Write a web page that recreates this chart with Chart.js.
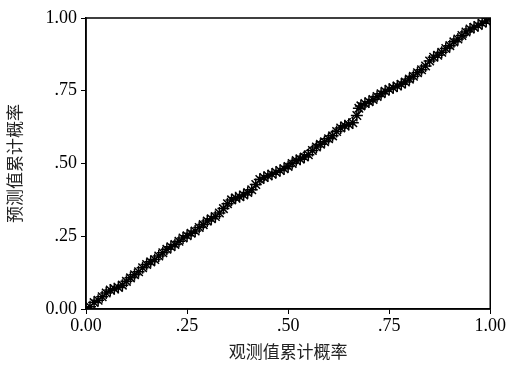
<!DOCTYPE html>
<html>
<head>
<meta charset="utf-8">
<script src="https://cdn.jsdelivr.net/npm/chart.js@4"></script>
<style>
  html, body { margin: 0; padding: 0; background: #fff; }
  #wrap { width: 507px; height: 366px; }
</style>
</head>
<body>
<div id="wrap"><canvas id="ppChart"></canvas></div>
<script>
// observed vs predicted cumulative probability
const observed = [
  0.000, 0.010, 0.020, 0.030, 0.040, 0.050, 0.060, 0.070, 0.080, 0.090,
  0.100, 0.110, 0.120, 0.130, 0.140, 0.150, 0.160, 0.170, 0.180, 0.190,
  0.200, 0.210, 0.220, 0.230, 0.240, 0.250, 0.260, 0.270, 0.280, 0.290,
  0.300, 0.310, 0.320, 0.330, 0.340, 0.350, 0.360, 0.370, 0.380, 0.390,
  0.400, 0.410, 0.420, 0.430, 0.440, 0.450, 0.460, 0.470, 0.480, 0.490,
  0.500, 0.510, 0.520, 0.530, 0.540, 0.550, 0.560, 0.570, 0.580, 0.590,
  0.600, 0.610, 0.620, 0.630, 0.640, 0.650, 0.660, 0.670, 0.675, 0.680,
  0.690, 0.700, 0.710, 0.720, 0.730, 0.740, 0.750, 0.760, 0.770, 0.780,
  0.790, 0.800, 0.810, 0.820, 0.830, 0.840, 0.850, 0.860, 0.870, 0.880,
  0.890, 0.900, 0.910, 0.920, 0.930, 0.940, 0.950, 0.960, 0.970, 0.980,
  0.990, 1.000
];
const predicted = [
  0.000, 0.008, 0.022, 0.030, 0.042, 0.055, 0.065, 0.070, 0.074, 0.082,
  0.095, 0.107, 0.118, 0.128, 0.142, 0.153, 0.162, 0.170, 0.182, 0.193,
  0.205, 0.214, 0.222, 0.233, 0.244, 0.252, 0.260, 0.268, 0.280, 0.290,
  0.302, 0.310, 0.318, 0.330, 0.345, 0.362, 0.375, 0.382, 0.386, 0.392,
  0.400, 0.410, 0.428, 0.445, 0.452, 0.458, 0.463, 0.470, 0.476, 0.482,
  0.490, 0.500, 0.510, 0.515, 0.522, 0.530, 0.545, 0.557, 0.566, 0.575,
  0.585, 0.595, 0.610, 0.622, 0.630, 0.634, 0.640, 0.665, 0.690, 0.698,
  0.706, 0.712, 0.720, 0.730, 0.740, 0.748, 0.755, 0.760, 0.766, 0.772,
  0.780, 0.790, 0.800, 0.812, 0.822, 0.835, 0.852, 0.865, 0.872, 0.882,
  0.895, 0.905, 0.918, 0.928, 0.940, 0.952, 0.962, 0.968, 0.974, 0.982,
  0.990, 1.000
];
const refLine = [[0, 0], [1, 1]];
const tickValues = [0, 0.25, 0.5, 0.75, 1];
const tickLabels = ['0.00', '.25', '.50', '.75', '1.00'];

const xTitle = '观测值累计概率';
const yTitle = '预测值累计概率';

const points = observed.map((x, i) => ({ x: x, y: predicted[i] }));

// box around the plot area (top and right sides)
const frame = {
  id: 'frame',
  afterDraw(chart) {
    const a = chart.chartArea;
    const c = chart.ctx;
    c.save();
    c.strokeStyle = '#000';
    c.lineWidth = 1.5;
    c.strokeRect(a.left, a.top, a.right - a.left, a.bottom - a.top);
    c.restore();
  }
};

const tickFont = { family: '"Liberation Serif", "Times New Roman", serif', size: 18 };
const titleFont = { family: '"Noto Sans CJK SC", sans-serif', size: 17 };

new Chart(document.getElementById('ppChart'), {
  type: 'scatter',
  data: {
    datasets: [
      {
        label: 'ref',
        type: 'line',
        data: refLine.map(p => ({ x: p[0], y: p[1] })),
        borderColor: '#000',
        borderWidth: 1,
        pointRadius: 0,
        fill: false
      },
      {
        label: 'pp',
        data: points,
        pointStyle: 'star',
        pointRadius: 6,
        borderColor: '#000',
        borderWidth: 1.5,
        backgroundColor: '#000'
      }
    ]
  },
  options: {
    responsive: true,
    maintainAspectRatio: false,
    animation: false,
    layout: { padding: { top: 18, right: 15, left: 0, bottom: 0 } },
    plugins: { legend: { display: false }, tooltip: { enabled: false } },
    scales: {
      x: {
        type: 'linear',
        min: 0,
        max: 1,
        afterBuildTicks: s => { s.ticks = tickValues.map(v => ({ value: v })); },
        afterFit: s => { s.height = 57; },
        ticks: {
          color: '#000',
          font: tickFont,
          padding: 1,
          maxRotation: 0,
          callback: v => tickLabels[tickValues.indexOf(v)]
        },
        grid: { drawOnChartArea: false, tickLength: 5, color: '#000' },
        border: { color: '#000', width: 1.5 },
        title: { display: true, text: xTitle, color: '#222', font: titleFont, padding: { top: 5 } }
      },
      y: {
        type: 'linear',
        min: 0,
        max: 1,
        afterBuildTicks: s => { s.ticks = tickValues.map(v => ({ value: v })); },
        afterFit: s => { s.width = 86; },
        ticks: {
          color: '#000',
          font: tickFont,
          padding: 4,
          callback: v => tickLabels[tickValues.indexOf(v)]
        },
        grid: { drawOnChartArea: false, tickLength: 5, color: '#000' },
        border: { color: '#000', width: 1.5 },
        title: { display: true, text: yTitle, color: '#222', font: titleFont, padding: { bottom: 4 } }
      }
    }
  },
  plugins: [frame]
});
</script>
</body>
</html>
